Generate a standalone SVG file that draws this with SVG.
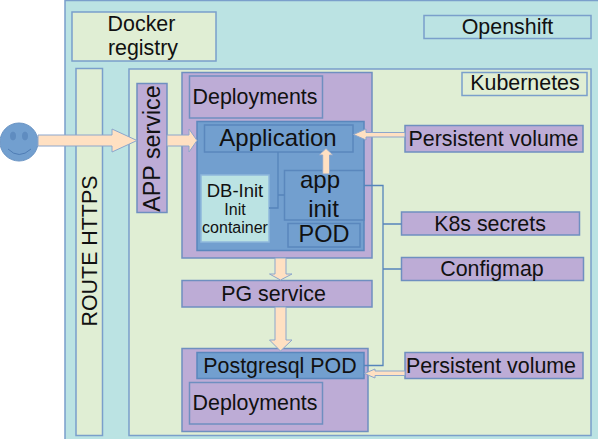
<svg xmlns="http://www.w3.org/2000/svg" width="598" height="439" viewBox="0 0 598 439">
<style>
text{font-family:"Liberation Sans",Arial,sans-serif;fill:#111;text-anchor:middle}
rect,.s{stroke:#7a9fcb;stroke-width:1.5}
.t{fill:#bbe3e3}.g{fill:#e0eed4}.p{fill:#bdacd6;stroke:#6f8fc0}.b{fill:#729fcf;stroke:#5a87bd}
.a{fill:#ffe0c2;stroke:#8ca6cc;stroke-width:1}
.l{fill:none;stroke:#5584bb;stroke-width:1.300}
.f21{font-size:21.400px}.f24{font-size:24px}.f16{font-size:16px}
</style>
<g id="openshift"><rect class="t" x="65" y="0.5" width="540" height="445"/></g>
<g id="openshift-label"><rect class="t" x="424" y="15.5" width="167" height="23"/><text class="f21" x="507.500" y="33.500">Openshift</text></g>
<g id="docker-registry"><rect class="g" x="72" y="12" width="144" height="49"/><text class="f21" x="141.500" y="31">Docker</text><text class="f21" x="143" y="54.500">registry</text></g>
<g id="route"><rect class="g" x="76" y="68.5" width="26.500" height="367"/><text class="f21" transform="translate(96.500,251) rotate(-90)">ROUTE HTTPS</text></g>
<g id="kubernetes"><rect class="g" x="129" y="69" width="462" height="366.500"/></g>
<g id="kubernetes-label"><rect class="g" x="462" y="72.500" width="125" height="23"/><text class="f21" x="525" y="90">Kubernetes</text></g>
<g id="app-service"><rect class="p" x="137" y="83.500" width="30" height="129"/><text transform="translate(160,148.500) rotate(-90)" style="font-size:23.300px">APP service</text></g>
<g id="app-deployment"><rect class="p" x="182" y="72.500" width="190" height="185.500"/></g>
<g id="deployments-1"><rect class="p" x="189.500" y="76" width="133" height="42"/><text class="f21" x="255" y="103.500">Deployments</text></g>
<g id="app-pod"><rect class="b" x="197" y="121.500" width="167" height="129"/></g>
<g id="application"><rect class="b" x="204.500" y="125" width="148.500" height="27"/><text class="f24" x="278" y="145.500">Application</text></g>
<g id="db-init"><rect x="201" y="175" width="68" height="67" style="fill:#bbe3e3;stroke:#8fb8dc"/><text x="235" y="197" style="font-size:18.500px">DB-Init</text><text class="f16" x="235" y="215">Init</text><text class="f16" x="235" y="233">container</text></g>
<g id="app-init"><rect class="b" x="284.500" y="170.500" width="79.500" height="49.500"/><text class="f24" x="320" y="188">app</text><text class="f24" x="323.500" y="216.500">init</text></g>
<g id="pod-label"><rect class="b" x="288" y="223.500" width="72" height="23.500"/><text x="324" y="242" style="font-size:23.500px">POD</text></g>
<g id="pg-service"><rect class="p" x="182" y="280.500" width="190" height="26.500"/><text class="f21" x="273.500" y="300.500">PG service</text></g>
<g id="postgres-deployment"><rect class="p" x="182" y="348.500" width="186" height="83"/></g>
<g id="postgres-pod"><rect class="b" x="197" y="352.500" width="167" height="26"/><text class="f21" x="280" y="372.500">Postgresql POD</text></g>
<g id="deployments-2"><rect class="p" x="189.500" y="382.500" width="133" height="41.500"/><text class="f21" x="255" y="410">Deployments</text></g>
<g id="pv-1"><rect class="p" x="405" y="125.500" width="178" height="26.500"/><text class="f21" x="493.500" y="145.500">Persistent volume</text></g>
<g id="k8s-secrets"><rect class="p" x="401.500" y="212" width="178" height="23"/><text class="f21" x="490" y="230.500">K8s secrets</text></g>
<g id="configmap"><rect class="p" x="401.500" y="257.500" width="182" height="23"/><text class="f21" x="492" y="276">Configmap</text></g>
<g id="pv-2"><rect class="p" x="405" y="352.500" width="178" height="26"/><text class="f21" x="491" y="372.500">Persistent volume</text></g>
<g id="user">
<circle cx="19" cy="142" r="19" style="fill:#729fcf;stroke:#6a94c4"/>
<ellipse cx="13" cy="136" rx="2.500" ry="4" style="fill:#5f8cc0;stroke:#5f8cc0"/>
<ellipse cx="25" cy="136" rx="2.500" ry="4" style="fill:#5f8cc0;stroke:#5f8cc0"/>
<path d="M8 149Q19 160 31 149" style="fill:none;stroke:#4f7db5;stroke-width:1"/>
</g>
<g id="connectors">
<path class="l" d="M278 152V208H269M278 195H284.500"/>
<path class="l" d="M364 185.500H383V365.500H364M383 224H401.500M383 269H401.500"/>
<path class="a" d="M38 135H112V129L137 140.500L112 152V146H38Z"/>
<path class="a" d="M167 135H189V129L197 140.500L189 152V146H167Z"/>
<path class="a" d="M405 132.500H366V129L353.500 134.500L366 140V137H405Z"/>
<path class="a" d="M322.700 174V155H319L326 148.500L333 155H329.500V174Z"/>
<path class="a" d="M275 258V274H269.500L280.500 280L292 274H286V258Z"/>
<path class="a" d="M275 307V340H269.500L280.500 351L292 340H286V307Z"/>
<path class="a" d="M405 371H375V369L364.500 373.500L375 378V375.500H405Z"/>
</g>
</svg>
